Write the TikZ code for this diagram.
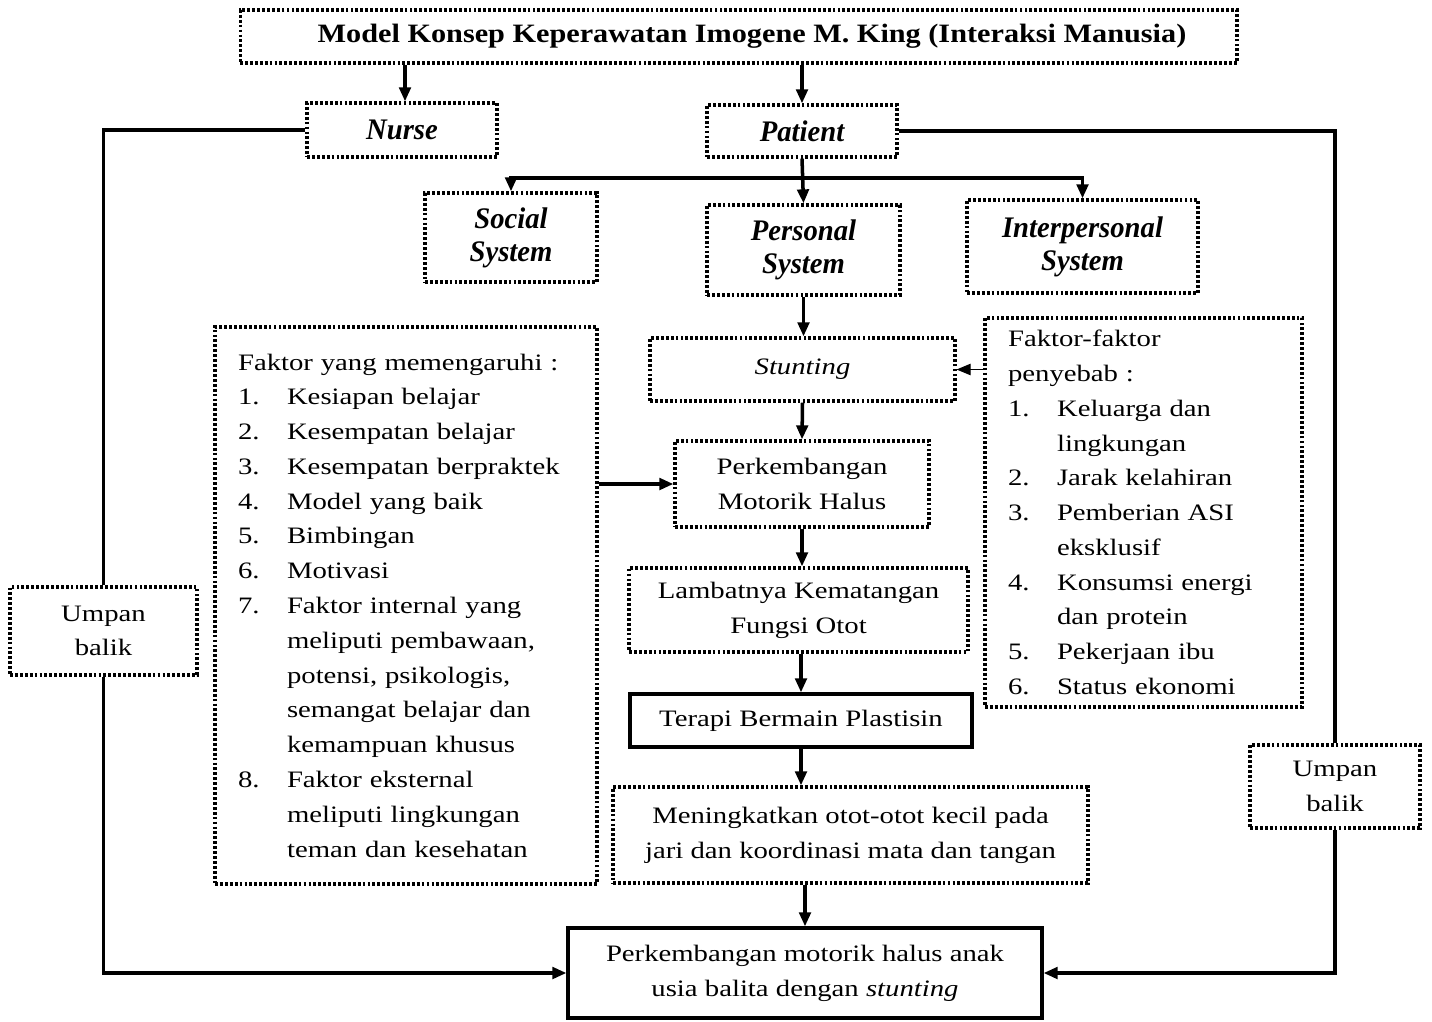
\documentclass[tikz,border=0pt]{standalone}
\usepackage{fontspec}
\setmainfont{Liberation Serif}[FakeStretch=1.22]
\newfontfamily\judul{Liberation Serif}[FakeStretch=1.14]
\newfontfamily\sistem{Liberation Serif}[FakeStretch=0.96]
\usetikzlibrary{arrows.meta}
\newcommand{\nmr}[2]{\makebox[0.98cm][l]{#1}#2}
\newcommand{\cnt}[1]{\hspace*{0.98cm}#1}

\begin{document}
\begin{tikzpicture}[x=0.02cm,y=-0.02cm,
   every node/.style={font=\fontsize{13.4}{19.8}\selectfont},
   dotbox/.style={draw,line width=1.8pt,dash pattern=on 1.6pt off 1.2pt,inner sep=0pt,align=center},
   solidbox/.style={draw,line width=1.8pt,inner sep=0pt,align=center},
   listbox/.style={dotbox,align=left,inner xsep=0.46cm},
   sysbox/.style={dotbox,font=\sistem\fontsize{17}{18.7}\selectfont\bfseries\itshape},
   arr/.style={line width=2pt,-{Triangle[length=8pt,width=6.5pt]}},
   thinarr/.style={line width=0.6pt,-{Triangle[length=8pt,width=6.5pt]}},
   ln/.style={line width=2pt}]
\useasboundingbox (0,0) rectangle (1432,1021);

          \node [dotbox,minimum width=19.94cm,minimum height=1.06cm,font=\judul\fontsize{15.1}{18}\selectfont\bfseries] at (738.5,36.5) (title) {\hspace*{0.54cm}Model Konsep Keperawatan Imogene M. King (Interaksi Manusia)};
             \node [sysbox,minimum width=3.8cm,minimum height=1.08cm] at (402,130) (nurse) {Nurse};
             \node [sysbox,minimum width=3.8cm,minimum height=1.04cm] at (802,131) (patient) {Patient};
%
              \node [sysbox,minimum width=3.44cm,minimum height=1.78cm] at (511,237.5) (social) {Social\\System};
              \node [sysbox,minimum width=3.86cm,minimum height=1.8cm] at (803.5,250) (personal) {Personal\\System};
              \node [sysbox,minimum width=4.62cm,minimum height=1.86cm] at (1082.5,246.5) (inter) {Interpersonal\\System};
%
                \node [dotbox,minimum width=6.1cm,minimum height=1.26cm] at (802.5,369.5) (stunting) {\textit{Stunting}};
                \node [dotbox,minimum width=5.08cm,minimum height=1.72cm] at (802,484) (motorik) {Perkembangan\\Motorik Halus};
                \node [dotbox,minimum width=6.78cm,minimum height=1.68cm] at (798.5,610) (lambat) {Lambatnya Kematangan\\Fungsi Otot};
                \node [solidbox,minimum width=6.84cm,minimum height=1.06cm] at (801,720.5) (terapi) {Terapi Bermain Plastisin};
                \node [dotbox,minimum width=9.5cm,minimum height=1.92cm] at (850.5,835) (otot) {Meningkatkan otot-otot kecil pada\\jari dan koordinasi mata dan tangan};
                \node [solidbox,minimum width=9.48cm,minimum height=1.8cm] at (805,973) (hasil) {Perkembangan motorik halus anak\\usia balita dengan \textit{stunting}};
%
             \node [listbox,text width=6.72cm,minimum height=11.14cm] at (406,605.5) (pengaruh) {Faktor yang memengaruhi :\\
               \nmr{1.}{Kesiapan belajar}\\
               \nmr{2.}{Kesempatan belajar}\\
               \nmr{3.}{Kesempatan berpraktek}\\
               \nmr{4.}{Model yang baik}\\
               \nmr{5.}{Bimbingan}\\
               \nmr{6.}{Motivasi}\\
               \nmr{7.}{Faktor internal yang}\\
               \cnt{meliputi pembawaan,}\\
               \cnt{potensi, psikologis,}\\
               \cnt{semangat belajar dan}\\
               \cnt{kemampuan khusus}\\
               \nmr{8.}{Faktor eksternal}\\
               \cnt{meliputi lingkungan}\\
               \cnt{teman dan kesehatan}};
             \node [listbox,text width=5.42cm,minimum height=7.78cm] at (1143.5,512.5) (penyebab) {Faktor-faktor\\
               penyebab :\\
               \nmr{1.}{Keluarga dan}\\
               \cnt{lingkungan}\\
               \nmr{2.}{Jarak kelahiran}\\
               \nmr{3.}{Pemberian ASI}\\
               \cnt{eksklusif}\\
               \nmr{4.}{Konsumsi energi}\\
               \cnt{dan protein}\\
               \nmr{5.}{Pekerjaan ibu}\\
               \nmr{6.}{Status ekonomi}};
%
             \node [dotbox,minimum width=3.74cm,minimum height=1.76cm] at (103.5,631) (umpanL) {Umpan\\balik};
             \node [dotbox,minimum width=3.4cm,minimum height=1.66cm] at (1335,786.5) (umpanR) {Umpan\\balik};
             \coordinate (cabang) at (802,178);
%
%
\draw[arr] (title.south -| 405,0) -- (405,0 |- nurse.north);
\draw[arr] (title.south -| patient.north) -- (patient.north);
\draw[ln] (nurse.west) -| (umpanL.north);
\draw[arr] (umpanL.south) |- (hasil.west);
\draw[ln] (patient.east) -| (umpanR.north);
\draw[arr] (umpanR.south) |- (hasil.east);
\draw[arr] (patient.south) -- (personal.north);
\draw[arr] (cabang) -| (social.north);
\draw[arr] (cabang) -| (inter.north);
\draw[arr] (personal.south) -- (personal.south |- stunting.north);
\draw[thinarr] (penyebab.west |- stunting.east) -- (stunting.east);
\draw[arr] (stunting.south) -- (motorik.north);
\draw[arr] (pengaruh.east |- motorik.west) -- (motorik.west);
\draw[arr] (motorik.south) -- (motorik.south |- lambat.north);
\draw[arr] (terapi.north |- lambat.south) -- (terapi.north);
\draw[arr] (terapi.south) -- (terapi.south |- otot.north);
\draw[arr] (hasil.north |- otot.south) -- (hasil.north);

\end{tikzpicture}
\end{document}
